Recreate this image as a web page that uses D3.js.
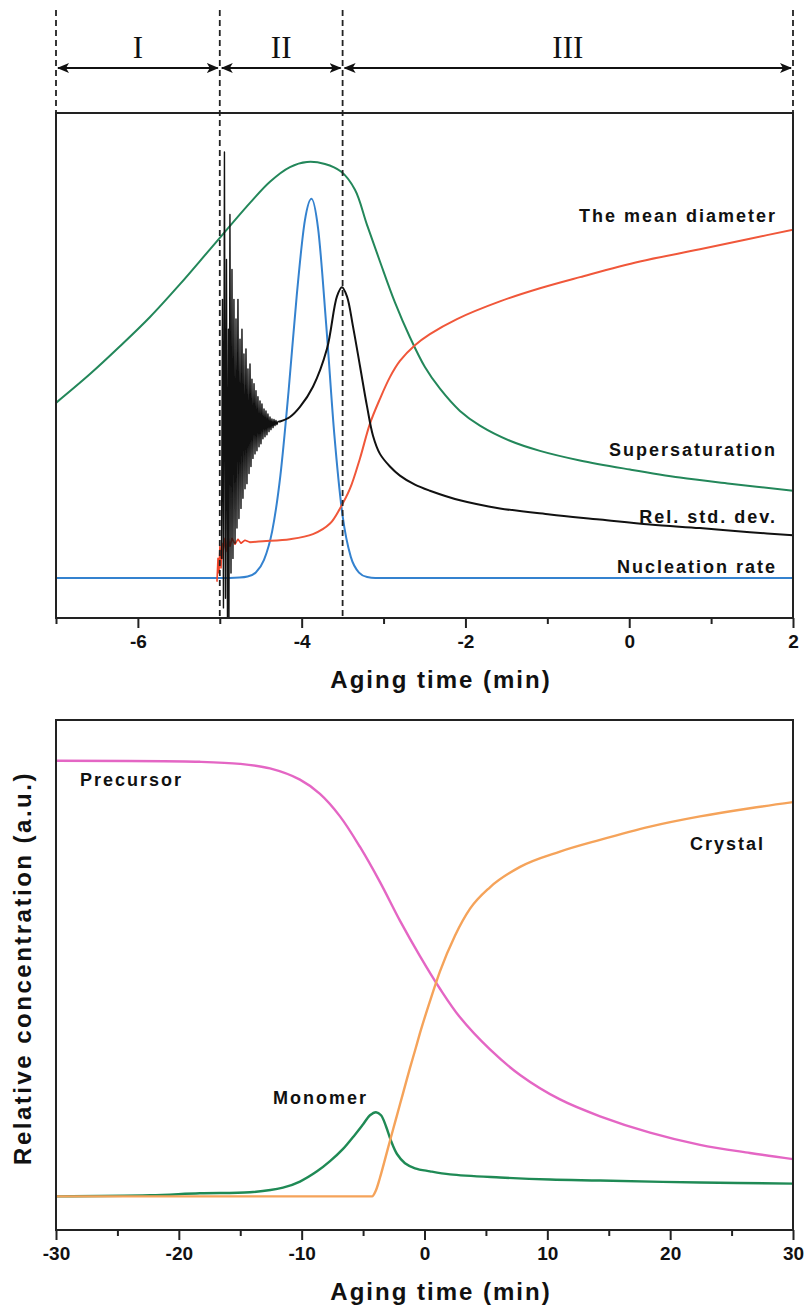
<!DOCTYPE html>
<html>
<head>
<meta charset="utf-8">
<script src="https://cdn.jsdelivr.net/npm/d3@7"></script>
<style>
  body { margin: 0; background: #fff; }
  svg { display: block; }
</style>
</head>
<body>
<script>
// ---------- Top panel: nucleation / growth stages (aging time in min, relative signal 0-100) ----------
const stageBounds = [-7, -5, -3.5, 2];
const stageLabels = ["I", "II", "III"];
const topMajorTicks = [-6, -4, -2, 0, 2];
const topMinorTicks = [-7, -5, -3, -1, 1];

const nucleationRate = [
  [-7.0, 7.9], [-5.0, 7.9], [-4.76, 8.0], [-4.66, 8.2], [-4.56, 9.0], [-4.46, 11.5],
  [-4.36, 17.2], [-4.26, 28.2], [-4.16, 44.9], [-4.06, 63.9], [-3.96, 78.8], [-3.88, 83.0],
  [-3.80, 77.2], [-3.70, 58.0], [-3.60, 36.1], [-3.50, 20.2], [-3.40, 12.1], [-3.30, 9.0],
  [-3.20, 8.1], [-3.10, 7.9], [2.0, 7.9]
];

const supersaturation = [
  [-7.0, 42.6], [-6.585, 48.3], [-6.219, 53.8], [-5.852, 59.6], [-5.486, 66.1], [-5.12, 73.0],
  [-4.631, 82.2], [-4.387, 86.4], [-4.143, 89.3], [-3.935, 90.3], [-3.716, 89.9], [-3.52, 88.4],
  [-3.349, 84.8], [-3.203, 77.9], [-3.044, 70.6], [-2.861, 62.5], [-2.678, 55.6], [-2.495, 49.7],
  [-2.311, 45.4], [-2.067, 41.0], [-1.823, 38.1], [-1.457, 35.1], [-1.09, 33.1], [-0.602, 31.2],
  [0.009, 29.4], [0.619, 27.8], [1.23, 26.6], [2.0, 25.2]
];

// mean diameter: jittery onset, then a smooth sigmoidal growth
const meanDiameterOnset = [
  [-5.034, 7.3], [-5.022, 11.8], [-5.010, 8.9], [-4.998, 14.2], [-4.985, 9.9], [-4.973, 14.8],
  [-4.961, 11.8], [-4.949, 15.8], [-4.924, 13.2], [-4.900, 16.2], [-4.875, 14.2], [-4.851, 15.8],
  [-4.814, 14.6], [-4.778, 15.6], [-4.741, 14.8], [-4.692, 15.4], [-4.631, 15.0]
];
const meanDiameter = [
  [-4.631, 15.0], [-4.473, 15.2], [-4.143, 15.6], [-3.862, 16.6], [-3.654, 18.7], [-3.532, 21.7],
  [-3.410, 25.6], [-3.288, 31.6], [-3.166, 38.5], [-3.044, 43.4], [-2.922, 47.7], [-2.800, 50.9],
  [-2.617, 54.0], [-2.434, 56.2], [-2.104, 59.2], [-1.579, 62.7], [-1.090, 65.3], [-0.602, 67.5],
  [0.131, 70.6], [0.863, 73.0], [1.474, 75.1], [2.0, 76.9]
];

// relative standard deviation: strongly fluctuating right after the onset, then smooth
const relStdDevBurst = [
  [-4.979, 11.8], [-4.967, 63.1], [-4.955, 2.0], [-4.943, 92.3], [-4.930, 3.9], [-4.918, 71.0],
  [-4.906, 0.0], [-4.894, 57.2], [-4.888, 0.0], [-4.876, 79.9], [-4.863, 8.9], [-4.851, 69.0],
  [-4.839, 11.8], [-4.827, 63.1], [-4.814, 14.8], [-4.802, 59.2], [-4.790, 17.8], [-4.778, 63.1],
  [-4.766, 19.7], [-4.753, 55.2], [-4.741, 21.7], [-4.729, 57.2], [-4.717, 23.7], [-4.705, 52.3],
  [-4.692, 25.6], [-4.680, 53.3], [-4.668, 26.6], [-4.656, 49.3], [-4.643, 28.6], [-4.631, 50.3],
  [-4.619, 30.0], [-4.607, 47.3], [-4.595, 31.6], [-4.582, 46.4], [-4.570, 32.5], [-4.558, 45.0],
  [-4.546, 33.1], [-4.534, 43.8], [-4.521, 33.9], [-4.509, 43.0], [-4.497, 34.5], [-4.485, 42.4],
  [-4.473, 35.5], [-4.460, 41.4], [-4.448, 35.9], [-4.436, 41.0], [-4.424, 36.3], [-4.412, 40.4],
  [-4.399, 36.9], [-4.387, 39.8], [-4.375, 37.3], [-4.363, 39.4], [-4.350, 37.7], [-4.338, 39.3],
  [-4.326, 38.1], [-4.314, 39.1], [-4.302, 38.3], [-4.289, 38.9], [-4.265, 38.9]
];
const relStdDevSmooth = [
  [-4.265, 38.9], [-4.143, 39.8], [-4.021, 41.8], [-3.862, 45.8], [-3.691, 53.3], [-3.569, 63.7],
  [-3.508, 65.5], [-3.447, 63.7], [-3.374, 57.8], [-3.288, 49.9], [-3.203, 42.0], [-3.129, 36.1],
  [-3.044, 32.5], [-2.922, 30.0], [-2.800, 28.2], [-2.617, 26.4], [-2.434, 25.2], [-2.067, 23.3],
  [-1.579, 21.7], [-0.968, 20.5], [-0.358, 19.5], [0.253, 18.5], [0.863, 17.8], [1.474, 17.0],
  [2.0, 16.4]
];

// ---------- Bottom panel: species concentrations (aging time in min, relative 0-100) ----------
const bottomMajorTicks = [-30, -20, -10, 0, 10, 20, 30];
const bottomMinorTicks = [-25, -15, -5, 5, 15, 25];

const precursor = [
  [-30, 92.0], [-18.28, 91.8], [-15.02, 91.4], [-12.58, 90.5], [-10.14, 88.3], [-8.51, 85.5],
  [-6.88, 81.1], [-5.25, 75.1], [-3.62, 68.2], [-1.99, 60.6], [-0.37, 53.7], [1.26, 47.3],
  [2.89, 41.7], [5.33, 35.4], [7.78, 30.4], [11.03, 25.6], [14.29, 22.3], [18.36, 19.1],
  [22.43, 16.7], [26.50, 15.1], [30, 13.9]
];

const crystal = [
  [-30, 6.6], [-4.27, 6.6], [-3.95, 7.8], [-3.62, 10.3], [-3.21, 13.9], [-2.81, 17.5],
  [-2.40, 21.1], [-1.99, 24.7], [-1.59, 28.2], [-1.18, 31.8], [-0.77, 35.2], [-0.37, 38.6],
  [0.45, 44.9], [1.26, 50.7], [2.48, 57.7], [3.71, 63.0], [5.33, 67.2], [7.78, 71.2],
  [11.03, 74.2], [14.29, 76.5], [18.36, 79.1], [22.43, 81.1], [26.50, 82.7], [30, 83.9]
];

const monomer = [
  [-30, 6.6], [-22.35, 6.8], [-18.28, 7.2], [-14.21, 7.4], [-11.52, 8.3], [-10.14, 9.5],
  [-8.75, 11.5], [-7.69, 13.5], [-6.63, 15.9], [-5.66, 18.7], [-5.01, 20.7], [-4.44, 22.5],
  [-3.95, 23.1], [-3.54, 22.5], [-3.13, 20.3], [-2.73, 17.5], [-2.24, 14.9], [-1.59, 13.1],
  [-0.77, 12.1], [0.45, 11.5], [2.08, 10.9], [6.15, 10.3], [10.22, 9.9], [14.29, 9.7],
  [22.43, 9.3], [30, 9.1]
];

// ---------- drawing ----------
const W = 804, H = 1312;
const FONT = "'Liberation Sans', Arial, sans-serif";
const svg = d3.select("body").append("svg").attr("width", W).attr("height", H);

const defs = svg.append("defs");
// barbed arrow head used for the stage spans
defs.append("marker")
  .attr("id", "arrowHead").attr("viewBox", "0 0 12 10")
  .attr("refX", 11).attr("refY", 5)
  .attr("markerWidth", 12).attr("markerHeight", 10)
  .attr("markerUnits", "userSpaceOnUse")
  .attr("orient", "auto-start-reverse")
  .append("path").attr("d", "M0,0 L12,5 L0,10 L3,5 Z").attr("fill", "#111");

function panel(opts) {
  const x = d3.scaleLinear().domain(opts.xDomain).range([56, 793]);
  const y = d3.scaleLinear().domain([0, 100]).range([opts.bottom, opts.top]);
  const g = svg.append("g");

  const clipId = "clip" + opts.id;
  defs.append("clipPath").attr("id", clipId)
    .append("rect").attr("x", 56).attr("y", opts.top)
    .attr("width", 737).attr("height", opts.bottom - opts.top);

  const plot = g.append("g").attr("clip-path", `url(#${clipId})`);

  // axes: labelled major ticks plus short minor ticks
  const axMajor = g.append("g").attr("transform", `translate(0,${opts.bottom})`)
    .call(d3.axisBottom(x).tickValues(opts.major).tickSize(10).tickSizeOuter(0).tickPadding(7)
      .tickFormat(d3.format("d")));
  axMajor.select(".domain").remove();
  axMajor.selectAll("line").attr("stroke", "#222").attr("stroke-width", 2);
  axMajor.selectAll("text").attr("font-family", FONT).attr("font-weight", "bold")
    .attr("font-size", 19).attr("fill", "#111").text(d => d < 0 ? "-" + Math.abs(d) : d);

  const axMinor = g.append("g").attr("transform", `translate(0,${opts.bottom})`)
    .call(d3.axisBottom(x).tickValues(opts.minor).tickSize(6).tickSizeOuter(0).tickFormat(""));
  axMinor.select(".domain").remove();
  axMinor.selectAll("line").attr("stroke", "#222").attr("stroke-width", 2);

  g.append("text")
    .attr("x", 441).attr("y", opts.bottom + 70)
    .attr("text-anchor", "middle")
    .attr("font-family", FONT).attr("font-weight", "bold").attr("font-size", 24)
    .attr("letter-spacing", 2).attr("fill", "#111")
    .text("Aging time (min)");

  return { x, y, g, plot };
}

const smooth = d3.curveCatmullRom.alpha(0.5);

function drawLine(target, scales, data, color, width, curve) {
  const line = d3.line()
    .x(d => scales.x(d[0])).y(d => scales.y(d[1]))
    .curve(curve || smooth);
  target.append("path").datum(data)
    .attr("d", line).attr("fill", "none")
    .attr("stroke", color).attr("stroke-width", width)
    .attr("stroke-linejoin", "round").attr("stroke-linecap", "round");
}

function label(target, x, y, text, anchor) {
  target.append("text")
    .attr("x", x).attr("y", y).attr("text-anchor", anchor || "end")
    .attr("font-family", FONT).attr("font-weight", "bold").attr("font-size", 18)
    .attr("letter-spacing", 2).attr("fill", "#111")
    .text(text);
}

// ----- top panel -----
const topPanel = panel({ id: "Top", xDomain: [-7, 2], top: 113, bottom: 618, major: topMajorTicks, minor: topMinorTicks });

drawLine(topPanel.plot, topPanel, supersaturation, "#23875a", 2);
drawLine(topPanel.plot, topPanel, nucleationRate, "#3482cf", 2, d3.curveMonotoneX);
drawLine(topPanel.plot, topPanel, meanDiameterOnset, "#f0442a", 1.6, d3.curveLinear);
drawLine(topPanel.plot, topPanel, meanDiameter, "#f0573a", 2);
drawLine(topPanel.plot, topPanel, relStdDevBurst, "#111", 1.4, d3.curveLinear);
drawLine(topPanel.plot, topPanel, relStdDevSmooth, "#111", 2);

// stage boundaries: dashed verticals
stageBounds.forEach((b, i) => {
  const inner = i > 0 && i < stageBounds.length - 1;
  svg.append("line")
    .attr("x1", topPanel.x(b)).attr("x2", topPanel.x(b))
    .attr("y1", 10).attr("y2", inner ? 618 : 113)
    .attr("stroke", "#222").attr("stroke-width", 1.8)
    .attr("stroke-dasharray", "6,4");
});

// stage spans: double arrows and roman numerals
stageLabels.forEach((s, i) => {
  const a = topPanel.x(stageBounds[i]) + 2, b = topPanel.x(stageBounds[i + 1]) - 2;
  svg.append("line")
    .attr("x1", a).attr("x2", b).attr("y1", 68).attr("y2", 68)
    .attr("stroke", "#111").attr("stroke-width", 2.2)
    .attr("marker-start", "url(#arrowHead)").attr("marker-end", "url(#arrowHead)");
  svg.append("text")
    .attr("x", topPanel.x((stageBounds[i] + stageBounds[i + 1]) / 2)).attr("y", 58)
    .attr("text-anchor", "middle")
    .attr("font-family", "'Liberation Serif', 'Times New Roman', serif")
    .attr("font-size", 31).attr("fill", "#111")
    .text(s);
});

topPanel.g.append("rect").attr("x", 56).attr("y", 113).attr("width", 737).attr("height", 505)
  .attr("fill", "none").attr("stroke", "#222").attr("stroke-width", 2);

label(svg, 777, 222, "The mean diameter");
label(svg, 777, 456, "Supersaturation");
label(svg, 777, 523, "Rel. std. dev.");
label(svg, 777, 573, "Nucleation rate");

// ----- bottom panel -----
const bottomPanel = panel({ id: "Bottom", xDomain: [-30, 30], top: 720, bottom: 1230, major: bottomMajorTicks, minor: bottomMinorTicks });

drawLine(bottomPanel.plot, bottomPanel, precursor, "#e466c4", 2.4);
drawLine(bottomPanel.plot, bottomPanel, monomer, "#1f8a55", 2.4);
drawLine(bottomPanel.plot, bottomPanel, crystal, "#f5a35a", 2.4, d3.curveMonotoneX);

bottomPanel.g.append("rect").attr("x", 56).attr("y", 720).attr("width", 737).attr("height", 510)
  .attr("fill", "none").attr("stroke", "#222").attr("stroke-width", 2);

label(svg, 80, 786, "Precursor", "start");
label(svg, 273, 1104, "Monomer", "start");
label(svg, 690, 850, "Crystal", "start");

svg.append("text")
  .attr("transform", "translate(31,968) rotate(-90)")
  .attr("text-anchor", "middle")
  .attr("font-family", FONT).attr("font-weight", "bold").attr("font-size", 24)
  .attr("letter-spacing", 2.5).attr("fill", "#111")
  .text("Relative concentration (a.u.)");
</script>
</body>
</html>
